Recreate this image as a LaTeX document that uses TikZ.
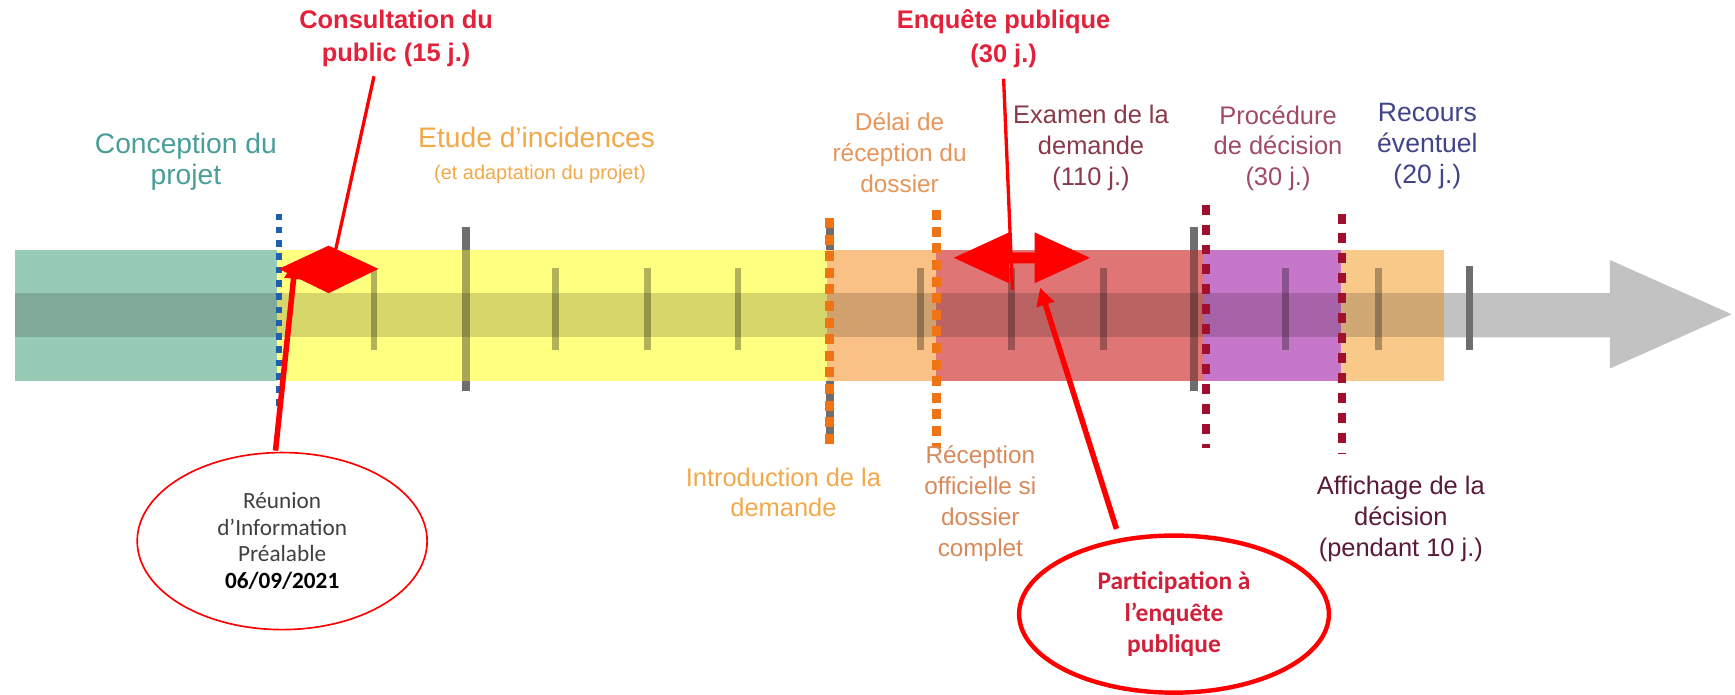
\documentclass[tikz,border=0pt]{standalone}
\usepackage{fontspec}
\setmainfont{Liberation Sans}
\newfontfamily\calibri{Carlito}
\usetikzlibrary{arrows.meta,shapes.geometric}
\definecolor{cteal}{HTML}{98CBB6}
\definecolor{cyel}{HTML}{FFFF80}
\definecolor{cora}{HTML}{F9C185}
\definecolor{cred}{HTML}{E07576}
\definecolor{cpur}{HTML}{C777C9}
\definecolor{clora}{HTML}{F9C98A}
\definecolor{carrow}{HTML}{C2C2C2}
\definecolor{tick}{HTML}{6E6E6E}
\definecolor{tblue}{HTML}{1F5FB0}
\definecolor{tora}{HTML}{F07414}
\definecolor{tdred}{HTML}{A0102E}
\definecolor{txred}{HTML}{E4203A}
\definecolor{txpart}{HTML}{D0203A}
\definecolor{txteal}{HTML}{4A9E9A}
\definecolor{txora}{HTML}{F2A94A}
\definecolor{txora2}{HTML}{E8955A}
\definecolor{txexam}{HTML}{8A3A48}
\definecolor{txproc}{HTML}{A04A6A}
\definecolor{txrec}{HTML}{404488}
\definecolor{txrecep}{HTML}{D88A5A}
\definecolor{txaff}{HTML}{5A1A3A}
\begin{document}
\begin{tikzpicture}[x=1pt,y=-1pt,
  lbl/.style={align=center,inner sep=0pt},
  mid/.style={font=\fontsize{23}{28}\selectfont},
  shorttick/.style={line width=6pt,draw=black,draw opacity=.3},
  longtick/.style={line width=7pt,draw=tick},
  longtickin/.style={line width=7pt,draw=black,draw opacity=.35},
  bluedash/.style={line width=5pt,draw=tblue,dash pattern=on 6pt off 6pt},
  oradash/.style={line width=8pt,draw=tora,dash pattern=on 9pt off 6pt},
  reddash/.style={line width=7pt,draw=tdred,dash pattern=on 9pt off 9pt},
  pointer/.style={draw=red,line width=3pt},
  fatpointer/.style={draw=red,line width=5pt,-{Triangle[length=16pt,width=16pt]}},
  redhead/.style={fill=red}]
\useasboundingbox (0,0) rectangle (1568,628);
\fill[white] (0,0) rectangle (1568,628);
% long ticks behind (ends visible)
\draw[longtick] (421,205) -- (421,353);
\draw[longtick] (1079,205) -- (1079,353);
\draw[longtick] (750,205) -- (750,400);
% bands
\fill[cteal] (14,226) rectangle (250,344);
\fill[cyel] (250,226) rectangle (747,344);
\fill[cora] (747,226) rectangle (846,344);
\fill[cred] (846,226) rectangle (1087,344);
\fill[cpur] (1087,226) rectangle (1212,344);
\fill[clora] (1212,226) rectangle (1305,344);
\fill[black,opacity=.16] (14,265) rectangle (1305,305);
\fill[carrow] (1305,265) -- (1455,265) -- (1455,235) -- (1565,284) -- (1455,333) -- (1455,305) -- (1305,305) -- cycle;
% long ticks inside band
\draw[longtickin] (421,226) -- (421,344);
\draw[longtickin] (1079,226) -- (1079,344);
% short ticks
\foreach \x in {338,502,585,667,832,914,997,1162,1246}
  \draw[shorttick] (\x,242) -- (\x,316);
\draw[line width=6pt,draw=tick] (1328,240) -- (1328,316);
% dashed markers
\draw[bluedash] (252,193) -- (252,372);
\draw[oradash] (750,197) -- (750,405);
\draw[oradash] (846,190) -- (846,405);
\draw[reddash] (1090,185) -- (1090,405);
\draw[reddash] (1213,193) -- (1213,410);
% red double arrows
\fill[redhead] (252,243) -- (297,222) -- (342,243) -- (297,265) -- cycle;
\fill[redhead] (862,233) -- (912,210) -- (912,228) -- (935,228) -- (935,210) -- (985,233) -- (935,256) -- (935,238) -- (912,238) -- (912,256) -- cycle;
% labels
\node[lbl,font=\fontsize{23}{30}\selectfont\bfseries,text=txred] (cons) at (358,35) {Consultation du\\public (15 j.)};
\node[lbl,font=\fontsize{25.5}{28}\selectfont,text=txteal] (conc) at (168,146) {Conception du\\projet};
\node[lbl,font=\fontsize{25.5}{28}\selectfont,text=txora] (etude) at (485,124) {Etude d'incidences};
\node[lbl,font=\fontsize{18}{20}\selectfont,text=txora] (etude2) at (488,158) {(et adaptation du projet)};
\node[lbl,font=\fontsize{23}{30}\selectfont\bfseries,text=txred] (enq) at (907,35) {Enquête publique\\(30 j.)};
\node[lbl,font=\fontsize{22}{28}\selectfont,text=txora2] (delai) at (813,138) {Délai de\\réception du\\dossier};
\node[lbl,mid,text=txexam] (exam) at (986,134) {Examen de la\\demande\\(110 j.)};
\node[lbl,mid,text=txproc] (proc) at (1155,134) {Procédure\\de décision\\(30 j.)};
\node[lbl,font=\fontsize{24}{28}\selectfont,text=txrec] (rec) at (1290,132) {Recours\\éventuel\\(20 j.)};
\node[lbl,font=\fontsize{23}{27}\selectfont,text=txora] (intro) at (708,445) {Introduction de la\\demande};
\node[lbl,font=\fontsize{22}{28}\selectfont,text=txrecep] (recep) at (886,455) {Réception\\officielle si\\dossier\\complet};
\node[lbl,font=\fontsize{23}{28}\selectfont,text=txaff] (aff) at (1266,469) {Affichage de la\\décision\\(pendant 10 j.)};
% ellipses
\node[ellipse,draw=red,line width=1.5pt,minimum width=262pt,minimum height=160pt,inner sep=0pt,align=center,
  font=\calibri\fontsize{21}{24}\selectfont,text=black!75] (reun) at (255,489)
  {Réunion\\d’Information\\Préalable\\\textcolor{black}{\bfseries 06/09/2021}};
\node[ellipse,draw=red,line width=4pt,minimum width=280pt,minimum height=142pt,inner sep=0pt,align=center,
  font=\calibri\bfseries\fontsize{23}{28.5}\selectfont,text=txpart] (part) at (1061,555)
  {Participation à\\l’enquête\\publique};
% pointers
\coordinate (consend) at (298,250);
\coordinate (enqend) at (915,262);
\coordinate (reuntip) at (267,236);
\coordinate (parttip) at (940,260);
\draw[pointer] ([xshift=-20pt,yshift=-8pt]cons.south) -- (consend);
\draw[pointer] ([yshift=-10pt]enq.south) -- (enqend);
\draw[fatpointer] ([xshift=-6pt,yshift=1pt]reun.north) -- (reuntip);
\draw[fatpointer] ([xshift=-52pt,yshift=4pt]part.north) -- (parttip);
\end{tikzpicture}
\end{document}
